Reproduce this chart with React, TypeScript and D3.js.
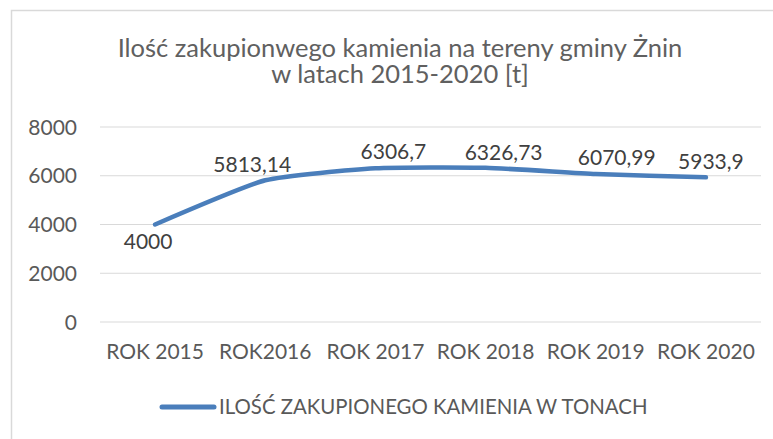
import React, { useEffect, useRef } from "react";
import * as d3 from "d3";

const categories = ["ROK 2015", "ROK2016", "ROK 2017", "ROK 2018", "ROK 2019", "ROK 2020"];
const values = [4000, 5813.14, 6306.7, 6326.73, 6070.99, 5933.9];
const valueLabels = ["4000", "5813,14", "6306,7", "6326,73", "6070,99", "5933,9"];
const yTicks = [0, 2000, 4000, 6000, 8000];
const titleLines = ["Ilość zakupionwego kamienia na tereny gminy Żnin", "w latach 2015-2020 [t]"];
const seriesName = "ILOŚĆ ZAKUPIONEGO KAMIENIA W TONACH";

// manual label placement (dx, dy relative to point), as in the original chart
const labelShift: [number, number][] = [[-7, 24], [-13, -8], [18, -9], [18, -8], [21, -9], [5, -8]];

const W = 773;
const H = 439;
const FONT = "Lato, 'Open Sans', sans-serif";

export default function App() {
  const ref = useRef<SVGSVGElement>(null);

  useEffect(() => {
    document.body.style.margin = "0";
    const svg = d3.select(ref.current);
    svg.selectAll("*").remove();

    const left = 100, right = 761, top = 127, bottom = 322;
    const x = d3.scaleBand<string>().domain(categories).range([left, right]);
    const y = d3.scaleLinear().domain([0, 8000]).range([bottom, top]);
    const cx = (c: string) => (x(c) as number) + x.bandwidth() / 2;

    svg.append("rect").attr("width", W).attr("height", H).attr("fill", "#fff");
    // chart frame
    svg.append("path")
      .attr("d", `M11.5,${H + 5}V10.5H${W + 5}`)
      .attr("fill", "none").attr("stroke", "#d9d9d9").attr("stroke-width", 1.5);

    // title
    const title = svg.append("text").attr("font-family", FONT).attr("font-size", 25.5)
      .attr("fill", "#606060").attr("text-anchor", "middle");
    titleLines.forEach((t, i) => {
      title.append("tspan").attr("x", 400).attr("y", 57 + i * 26).text(t);
    });

    // grid
    svg.append("g").selectAll("line").data(yTicks).join("line")
      .attr("x1", left).attr("x2", right)
      .attr("y1", d => y(d)).attr("y2", d => y(d))
      .attr("stroke", "#d9d9d9").attr("stroke-width", 1.2);

    // y labels
    svg.append("g").selectAll("text").data(yTicks).join("text")
      .attr("x", 77).attr("y", d => y(d)).attr("dy", "0.36em")
      .attr("text-anchor", "end").attr("font-family", FONT).attr("font-size", 21)
      .attr("fill", "#595959").text(d => String(d));

    // x labels
    svg.append("g").selectAll("text").data(categories).join("text")
      .attr("x", c => cx(c)).attr("y", 359)
      .attr("text-anchor", "middle").attr("font-family", FONT).attr("font-size", 21)
      .attr("fill", "#595959").text(c => c);

    // line
    const line = d3.line<number>()
      .x((_, i) => cx(categories[i]))
      .y(d => y(d))
      .curve(d3.curveCardinal.tension(0.5));
    svg.append("path").datum(values).attr("d", line)
      .attr("fill", "none").attr("stroke", "#4A7EBB").attr("stroke-width", 4.5)
      .attr("stroke-linecap", "round").attr("stroke-linejoin", "round");

    // data labels
    svg.append("g").selectAll("text").data(values).join("text")
      .attr("x", (_, i) => cx(categories[i]) + labelShift[i][0])
      .attr("y", (d, i) => y(d) + labelShift[i][1])
      .attr("text-anchor", "middle").attr("font-family", FONT).attr("font-size", 21)
      .attr("fill", "#404040").text((_, i) => valueLabels[i]);

    // legend
    svg.append("line").attr("x1", 162).attr("x2", 214).attr("y1", 407).attr("y2", 407)
      .attr("stroke", "#4A7EBB").attr("stroke-width", 5).attr("stroke-linecap", "round");
    svg.append("text").attr("x", 219).attr("y", 414).attr("font-family", FONT)
      .attr("font-size", 20.4).attr("fill", "#595959").text(seriesName);
  }, []);

  return <svg ref={ref} width={W} height={H} style={{ display: "block" }} />;
}
